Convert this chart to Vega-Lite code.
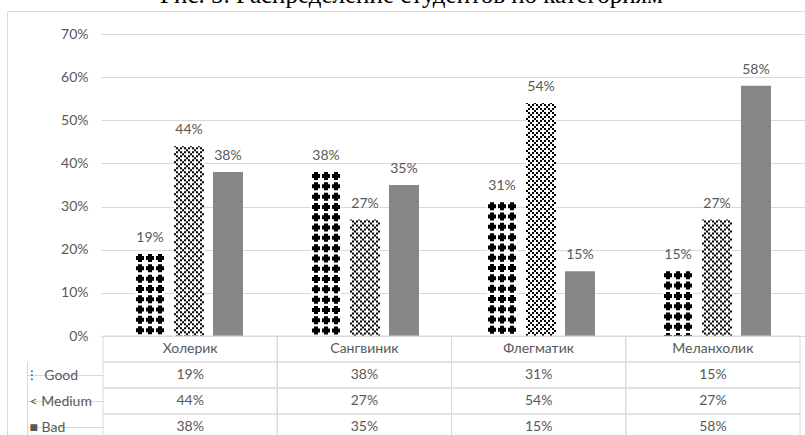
{
  "$schema": "https://vega.github.io/schema/vega-lite/v6.json",
  "width": 801,
  "height": 434,
  "autosize": {"type": "none"},
  "padding": {"left": 7, "top": 11, "right": -3, "bottom": -10},
  "background": "#ffffff",
  "title": {"text": "Рис. 5. Распределение студентов по категориям", "font": "Liberation Serif", "fontSize": 25, "fontWeight": "normal", "color": "#000000", "anchor": "middle", "frame": "group", "baseline": "alphabetic", "offset": 0, "dx": 4, "dy": 17},
  "config": {"view": {"stroke": "#d9d9d9"}, "font": "Lato", "text": {"font": "Lato"}},
  "data": {"values": [
    {"cat": "Холерик", "series": "Good", "value": 0.19},
    {"cat": "Холерик", "series": "Medium", "value": 0.44},
    {"cat": "Холерик", "series": "Bad", "value": 0.38},
    {"cat": "Сангвиник", "series": "Good", "value": 0.38},
    {"cat": "Сангвиник", "series": "Medium", "value": 0.27},
    {"cat": "Сангвиник", "series": "Bad", "value": 0.35},
    {"cat": "Флегматик", "series": "Good", "value": 0.31},
    {"cat": "Флегматик", "series": "Medium", "value": 0.54},
    {"cat": "Флегматик", "series": "Bad", "value": 0.15},
    {"cat": "Меланхолик", "series": "Good", "value": 0.15},
    {"cat": "Меланхолик", "series": "Medium", "value": 0.27},
    {"cat": "Меланхолик", "series": "Bad", "value": 0.58}
  ]},
  "layer": [
    {
      "layer": [
        {
          "mark": {"type": "bar"},
          "encoding": {
            "x": {"field": "cat", "type": "nominal", "scale": {"domain": ["Холерик", "Сангвиник", "Флегматик", "Меланхолик"], "range": [94, 798], "paddingInner": 0.3864, "paddingOuter": 0.1932}, "axis": null},
            "xOffset": {"field": "series", "type": "nominal", "scale": {"domain": ["Good", "Medium", "Bad"], "paddingInner": 0.23, "paddingOuter": 0}},
            "y": {"field": "value", "type": "quantitative", "scale": {"domain": [0, 0.7], "range": [325, 23], "nice": false}, "axis": {"orient": "left", "offset": -96, "values": [0, 0.1, 0.2, 0.3, 0.4, 0.5, 0.6, 0.7], "format": ".0%", "domain": false, "ticks": false, "labelPadding": 15, "labelFont": "Lato", "labelFontSize": 14, "labelColor": "#595959", "grid": true, "gridColor": "#d9d9d9", "title": null}},
            "color": {"field": "series", "type": "nominal", "scale": {"domain": ["Good", "Medium", "Bad"], "range": ["#ffffff", "#ffffff", "#878787"]}, "legend": null}
          }
        },
        {"transform": [{"filter": "datum.series === 'Good'"}], "mark": {"type": "rule", "stroke": "#000000", "strokeWidth": 4, "strokeDash": [8, 2.3], "strokeDashOffset": 0}, "encoding": {"x": {"field": "cat", "type": "nominal", "bandPosition": 0.046296}, "y": {"field": "value", "type": "quantitative"}, "y2": {"datum": 0}}},
        {"transform": [{"filter": "datum.series === 'Good'"}], "mark": {"type": "rule", "stroke": "#000000", "strokeWidth": 4, "strokeDash": [8, 2.3], "strokeDashOffset": 0}, "encoding": {"x": {"field": "cat", "type": "nominal", "bandPosition": 0.138889}, "y": {"field": "value", "type": "quantitative"}, "y2": {"datum": 0}}},
        {"transform": [{"filter": "datum.series === 'Good'"}], "mark": {"type": "rule", "stroke": "#000000", "strokeWidth": 4, "strokeDash": [8, 2.3], "strokeDashOffset": 0}, "encoding": {"x": {"field": "cat", "type": "nominal", "bandPosition": 0.231481}, "y": {"field": "value", "type": "quantitative"}, "y2": {"datum": 0}}},
        {"transform": [{"filter": "datum.series === 'Good'"}], "mark": {"type": "rule", "stroke": "#000000", "strokeWidth": 2, "strokeDash": [4, 6.3], "strokeDashOffset": 8.3}, "encoding": {"x": {"field": "cat", "type": "nominal", "bandPosition": 0.018519}, "y": {"field": "value", "type": "quantitative"}, "y2": {"datum": 0}}},
        {"transform": [{"filter": "datum.series === 'Good'"}], "mark": {"type": "rule", "stroke": "#000000", "strokeWidth": 2, "strokeDash": [4, 6.3], "strokeDashOffset": 8.3}, "encoding": {"x": {"field": "cat", "type": "nominal", "bandPosition": 0.074074}, "y": {"field": "value", "type": "quantitative"}, "y2": {"datum": 0}}},
        {"transform": [{"filter": "datum.series === 'Good'"}], "mark": {"type": "rule", "stroke": "#000000", "strokeWidth": 2, "strokeDash": [4, 6.3], "strokeDashOffset": 8.3}, "encoding": {"x": {"field": "cat", "type": "nominal", "bandPosition": 0.111111}, "y": {"field": "value", "type": "quantitative"}, "y2": {"datum": 0}}},
        {"transform": [{"filter": "datum.series === 'Good'"}], "mark": {"type": "rule", "stroke": "#000000", "strokeWidth": 2, "strokeDash": [4, 6.3], "strokeDashOffset": 8.3}, "encoding": {"x": {"field": "cat", "type": "nominal", "bandPosition": 0.166667}, "y": {"field": "value", "type": "quantitative"}, "y2": {"datum": 0}}},
        {"transform": [{"filter": "datum.series === 'Good'"}], "mark": {"type": "rule", "stroke": "#000000", "strokeWidth": 2, "strokeDash": [4, 6.3], "strokeDashOffset": 8.3}, "encoding": {"x": {"field": "cat", "type": "nominal", "bandPosition": 0.203704}, "y": {"field": "value", "type": "quantitative"}, "y2": {"datum": 0}}},
        {"transform": [{"filter": "datum.series === 'Good'"}], "mark": {"type": "rule", "stroke": "#000000", "strokeWidth": 2, "strokeDash": [4, 6.3], "strokeDashOffset": 8.3}, "encoding": {"x": {"field": "cat", "type": "nominal", "bandPosition": 0.259259}, "y": {"field": "value", "type": "quantitative"}, "y2": {"datum": 0}}},
        {"transform": [{"filter": "datum.series === 'Medium'"}], "mark": {"type": "rule", "stroke": "#000000", "strokeWidth": 2, "strokeDash": [2, 6], "strokeDashOffset": 1}, "encoding": {"x": {"field": "cat", "type": "nominal", "bandPosition": 0.370370}, "y": {"field": "value", "type": "quantitative"}, "y2": {"datum": 0}}},
        {"transform": [{"filter": "datum.series === 'Medium'"}], "mark": {"type": "rule", "stroke": "#000000", "strokeWidth": 2, "strokeDash": [2, 6], "strokeDashOffset": 1}, "encoding": {"x": {"field": "cat", "type": "nominal", "bandPosition": 0.444444}, "y": {"field": "value", "type": "quantitative"}, "y2": {"datum": 0}}},
        {"transform": [{"filter": "datum.series === 'Medium'"}], "mark": {"type": "rule", "stroke": "#000000", "strokeWidth": 2, "strokeDash": [2, 6], "strokeDashOffset": 1}, "encoding": {"x": {"field": "cat", "type": "nominal", "bandPosition": 0.518519}, "y": {"field": "value", "type": "quantitative"}, "y2": {"datum": 0}}},
        {"transform": [{"filter": "datum.series === 'Medium'"}], "mark": {"type": "rule", "stroke": "#000000", "strokeWidth": 2, "strokeDash": [2, 6], "strokeDashOffset": 1}, "encoding": {"x": {"field": "cat", "type": "nominal", "bandPosition": 0.592593}, "y": {"field": "value", "type": "quantitative"}, "y2": {"datum": 0}}},
        {"transform": [{"filter": "datum.series === 'Medium'"}], "mark": {"type": "rule", "stroke": "#000000", "strokeWidth": 2, "strokeDash": [2, 2], "strokeDashOffset": 3}, "encoding": {"x": {"field": "cat", "type": "nominal", "bandPosition": 0.388889}, "y": {"field": "value", "type": "quantitative"}, "y2": {"datum": 0}}},
        {"transform": [{"filter": "datum.series === 'Medium'"}], "mark": {"type": "rule", "stroke": "#000000", "strokeWidth": 2, "strokeDash": [2, 2], "strokeDashOffset": 3}, "encoding": {"x": {"field": "cat", "type": "nominal", "bandPosition": 0.425926}, "y": {"field": "value", "type": "quantitative"}, "y2": {"datum": 0}}},
        {"transform": [{"filter": "datum.series === 'Medium'"}], "mark": {"type": "rule", "stroke": "#000000", "strokeWidth": 2, "strokeDash": [2, 2], "strokeDashOffset": 3}, "encoding": {"x": {"field": "cat", "type": "nominal", "bandPosition": 0.462963}, "y": {"field": "value", "type": "quantitative"}, "y2": {"datum": 0}}},
        {"transform": [{"filter": "datum.series === 'Medium'"}], "mark": {"type": "rule", "stroke": "#000000", "strokeWidth": 2, "strokeDash": [2, 2], "strokeDashOffset": 3}, "encoding": {"x": {"field": "cat", "type": "nominal", "bandPosition": 0.5}, "y": {"field": "value", "type": "quantitative"}, "y2": {"datum": 0}}},
        {"transform": [{"filter": "datum.series === 'Medium'"}], "mark": {"type": "rule", "stroke": "#000000", "strokeWidth": 2, "strokeDash": [2, 2], "strokeDashOffset": 3}, "encoding": {"x": {"field": "cat", "type": "nominal", "bandPosition": 0.537037}, "y": {"field": "value", "type": "quantitative"}, "y2": {"datum": 0}}},
        {"transform": [{"filter": "datum.series === 'Medium'"}], "mark": {"type": "rule", "stroke": "#000000", "strokeWidth": 2, "strokeDash": [2, 2], "strokeDashOffset": 3}, "encoding": {"x": {"field": "cat", "type": "nominal", "bandPosition": 0.574074}, "y": {"field": "value", "type": "quantitative"}, "y2": {"datum": 0}}},
        {"transform": [{"filter": "datum.series === 'Medium'"}], "mark": {"type": "rule", "stroke": "#000000", "strokeWidth": 2, "strokeDash": [2, 2], "strokeDashOffset": 3}, "encoding": {"x": {"field": "cat", "type": "nominal", "bandPosition": 0.611111}, "y": {"field": "value", "type": "quantitative"}, "y2": {"datum": 0}}},
        {"transform": [{"filter": "datum.series === 'Medium'"}], "mark": {"type": "rule", "stroke": "#000000", "strokeWidth": 2, "strokeDash": [2, 6], "strokeDashOffset": 5}, "encoding": {"x": {"field": "cat", "type": "nominal", "bandPosition": 0.407407}, "y": {"field": "value", "type": "quantitative"}, "y2": {"datum": 0}}},
        {"transform": [{"filter": "datum.series === 'Medium'"}], "mark": {"type": "rule", "stroke": "#000000", "strokeWidth": 2, "strokeDash": [2, 6], "strokeDashOffset": 5}, "encoding": {"x": {"field": "cat", "type": "nominal", "bandPosition": 0.481481}, "y": {"field": "value", "type": "quantitative"}, "y2": {"datum": 0}}},
        {"transform": [{"filter": "datum.series === 'Medium'"}], "mark": {"type": "rule", "stroke": "#000000", "strokeWidth": 2, "strokeDash": [2, 6], "strokeDashOffset": 5}, "encoding": {"x": {"field": "cat", "type": "nominal", "bandPosition": 0.555556}, "y": {"field": "value", "type": "quantitative"}, "y2": {"datum": 0}}},
        {"transform": [{"filter": "datum.series === 'Medium'"}], "mark": {"type": "rule", "stroke": "#000000", "strokeWidth": 2, "strokeDash": [2, 6], "strokeDashOffset": 5}, "encoding": {"x": {"field": "cat", "type": "nominal", "bandPosition": 0.629630}, "y": {"field": "value", "type": "quantitative"}, "y2": {"datum": 0}}},
        {
          "mark": {"type": "text", "dy": -12, "baseline": "alphabetic", "align": "center", "font": "Lato", "fontSize": 14, "fill": "#595959"},
          "encoding": {
            "x": {"field": "cat", "type": "nominal"},
            "xOffset": {"field": "series", "type": "nominal"},
            "y": {"field": "value", "type": "quantitative"},
            "text": {"field": "value", "type": "quantitative", "format": ".0%"}
          }
        }
      ]
    },
    {
      "layer": [
        {
          "mark": {"type": "rect", "fill": "transparent", "stroke": "#d9d9d9", "strokeWidth": 1},
          "encoding": {
            "x": {"field": "cat", "type": "nominal", "scale": {"domain": ["Холерик", "Сангвиник", "Флегматик", "Меланхолик"], "range": [96, 793], "paddingInner": 0, "paddingOuter": 0}, "axis": null},
            "y": {"field": "series", "type": "nominal", "scale": {"domain": ["hdr", "Good", "Medium", "Bad"], "range": [325, 429], "paddingInner": 0, "paddingOuter": 0}, "axis": null}
          }
        },
        {
          "transform": [{"filter": "datum.series === 'Good'"}],
          "mark": {"type": "rect", "fill": "transparent", "stroke": "#d9d9d9", "strokeWidth": 1},
          "encoding": {
            "x": {"field": "cat", "type": "nominal"},
            "y": {"datum": "hdr", "type": "nominal"}
          }
        },
        {
          "mark": {"type": "text", "align": "center", "baseline": "middle", "font": "Lato", "fontSize": 14, "fill": "#595959"},
          "encoding": {
            "x": {"field": "cat", "type": "nominal"},
            "y": {"field": "series", "type": "nominal"},
            "text": {"field": "value", "type": "quantitative", "format": ".0%"}
          }
        },
        {
          "transform": [{"filter": "datum.series === 'Good'"}],
          "mark": {"type": "text", "align": "center", "baseline": "middle", "font": "Lato", "fontSize": 14, "fill": "#595959"},
          "encoding": {
            "x": {"field": "cat", "type": "nominal"},
            "y": {"datum": "hdr", "type": "nominal"},
            "text": {"field": "cat", "type": "nominal"}
          }
        }
      ]
    },
    {
      "mark": {"type": "text", "text": ""},
      "encoding": {
        "y": {"field": "series", "type": "nominal", "scale": {"domain": ["Good", "Medium", "Bad"], "range": [351, 429], "paddingInner": 0, "paddingOuter": 0}, "axis": {"orient": "left", "offset": -96, "domain": false, "ticks": true, "tickColor": "#d9d9d9", "tickSize": 76, "bandPosition": 0, "labels": false, "grid": false, "title": null}}
      }
    },
    {
      "mark": {"type": "text", "text": ""},
      "encoding": {
        "y": {"field": "series", "type": "nominal", "scale": {"domain": ["Good", "Medium", "Bad"], "range": [351, 429], "paddingInner": 0, "paddingOuter": 0}, "axis": {"orient": "left", "offset": -20, "domain": true, "domainColor": "#d9d9d9", "ticks": false, "labels": true, "labelAlign": "left", "labelBaseline": "middle", "labelPadding": -2, "labelFont": "Lato", "labelFontSize": 14, "labelColor": "#595959", "labelExpr": "datum.value == 'Good' ? '⁝\u00a0\u00a0\u00a0Good' : datum.value == 'Medium' ? '<\u00a0Medium' : '■\u00a0Bad'", "grid": false, "title": null}}
      }
    }
  ],
  "resolve": {"scale": {"x": "independent", "y": "independent"}}
}
